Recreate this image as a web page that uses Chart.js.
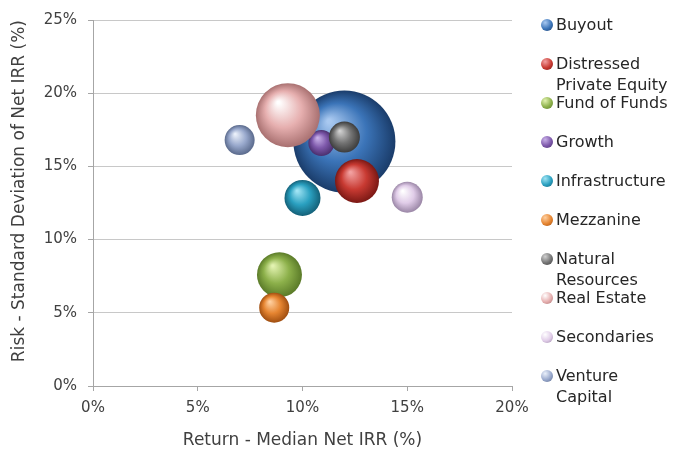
<!DOCTYPE html>
<html>
<head>
<meta charset="utf-8">
<title>Risk vs Return</title>
<script src="https://cdn.jsdelivr.net/npm/chart.js@4.4.1/dist/chart.umd.min.js"></script>
<style>
    body { margin: 0; background: #fff; font-family: "DejaVu Sans", sans-serif; }
    #wrap { position: relative; width: 675px; height: 457px; }
    .item { position: absolute; left: 541px; display: flex; align-items: flex-start;
            font-size: 16px; line-height: 21px; color: #262626; white-space: pre-line; }
    .dot { width: 12px; height: 12px; border-radius: 50%; margin-top: 5px; margin-right: 3px; flex: none; }
</style>
</head>
<body>
<div id="wrap">
    <canvas id="chart" width="675" height="457"></canvas>
    <div id="legend"></div>
</div>
<script>
// Strategies, median net IRR (x) and std dev of net IRR (y), in %
const categories = ['Buyout', 'Distressed Private Equity', 'Fund of Funds', 'Growth', 'Infrastructure',
    'Mezzanine', 'Natural Resources', 'Real Estate', 'Secondaries', 'Venture Capital'];
const medianReturn = [12.0, 12.6, 8.9, 10.9, 10.0, 8.65, 12.0, 9.3, 15.0, 7.0];
const riskStdDev = [16.7, 14.0, 7.6, 16.6, 12.85, 5.35, 17.0, 18.5, 12.9, 16.8];
const bubbleSize = [51, 22, 22.5, 13, 18, 15, 15.5, 32, 15.5, 15];
const xTicks = [0, 5, 10, 15, 20];
const yTicks = [0, 5, 10, 15, 20, 25];

// sphere shading per series
const highlights = ['#a8c8f0', '#f2a0a0', '#e2f2b0', '#c8b0e8', '#a0e4f4', '#ffd0a0', '#d0d0d0', '#ffffff', '#ffffff', '#eaf0fa'];
const baseColors = ['#3b74b8', '#c83a32', '#8cb04a', '#7d58aa', '#2aa0c0', '#e58430', '#747474', '#e6afaf', '#e0cce8', '#98a8cc'];
const shades = ['#1a3c6a', '#7a1814', '#5a7a28', '#4a2f6e', '#146078', '#a04e10', '#3c3c3c', '#a87070', '#9a86a6', '#5a6a8c'];

const textColor = '#404040';
const axisColor = '#a6a6a6';

function sphere(ctx) {
    const i = ctx.datasetIndex;
    const chart = ctx.chart;
    const raw = ctx.raw;
    if (!raw || !chart.chartArea) return baseColors[i];
    const px = chart.scales.x.getPixelForValue(raw.x);
    const py = chart.scales.y.getPixelForValue(raw.y);
    const r = raw.r;
    const g = chart.ctx.createRadialGradient(px - r * 0.3, py - r * 0.4, r * 0.04, px, py, r);
    g.addColorStop(0, highlights[i]);
    g.addColorStop(0.55, baseColors[i]);
    g.addColorStop(1, shades[i]);
    return g;
}

const datasets = categories.map((name, i) => ({
    label: name,
    data: [{ x: medianReturn[i], y: riskStdDev[i], r: bubbleSize[i] }],
    backgroundColor: sphere,
    borderWidth: 0,
    // later series sit on top of earlier ones
    order: categories.length - i
}));

const fontTick = { family: 'DejaVu Sans', size: 15 };
const fontTitle = { family: 'DejaVu Sans', size: 17 };

new Chart(document.getElementById('chart'), {
    type: 'bubble',
    data: { datasets: datasets },
    options: {
        responsive: false,
        animation: false,
        events: [],
        layout: { autoPadding: false, padding: { left: 0, right: 163, top: 19, bottom: 0 } },
        plugins: {
            legend: { display: false },
            tooltip: { enabled: false }
        },
        scales: {
            x: {
                min: 0, max: 20,
                afterFit: s => { s.height = 71; },
                afterBuildTicks: s => { s.ticks = xTicks.map(v => ({ value: v })); },
                grid: { drawOnChartArea: false, tickLength: 5, color: axisColor },
                border: { color: axisColor },
                ticks: { color: textColor, font: fontTick, padding: 8, callback: v => v + '%' },
                title: { display: true, text: 'Return - Median Net IRR (%)', color: textColor,
                         font: fontTitle, padding: { top: 0, bottom: 6 } }
            },
            y: {
                min: 0, max: 25,
                afterFit: s => { s.width = 93; },
                afterBuildTicks: s => { s.ticks = yTicks.map(v => ({ value: v })); },
                grid: { color: '#c8c8c8', tickColor: axisColor, tickLength: 5 },
                border: { color: axisColor },
                ticks: { color: textColor, font: fontTick, padding: 11, callback: v => v + '%' },
                title: { display: true, text: 'Risk - Standard Deviation of Net IRR (%)', color: textColor,
                         font: fontTitle, align: 'end', padding: { top: 9, bottom: 0 } }
            }
        }
    }
});

// Legend on the right, fixed row spacing like the original
const legend = document.getElementById('legend');
categories.forEach((name, i) => {
    const item = document.createElement('div');
    item.className = 'item';
    item.style.top = (24 + 39 * i - 10.5) + 'px';
    const text = name.length > 14 ? name.replace(' ', '\n') : name;
    item.innerHTML = `<span class="dot" style="background: radial-gradient(circle at 35% 30%, ${highlights[i]} 0%, ${baseColors[i]} 55%, ${shades[i]} 100%)"></span><span>${text}</span>`;
    legend.appendChild(item);
});
</script>
</body>
</html>
